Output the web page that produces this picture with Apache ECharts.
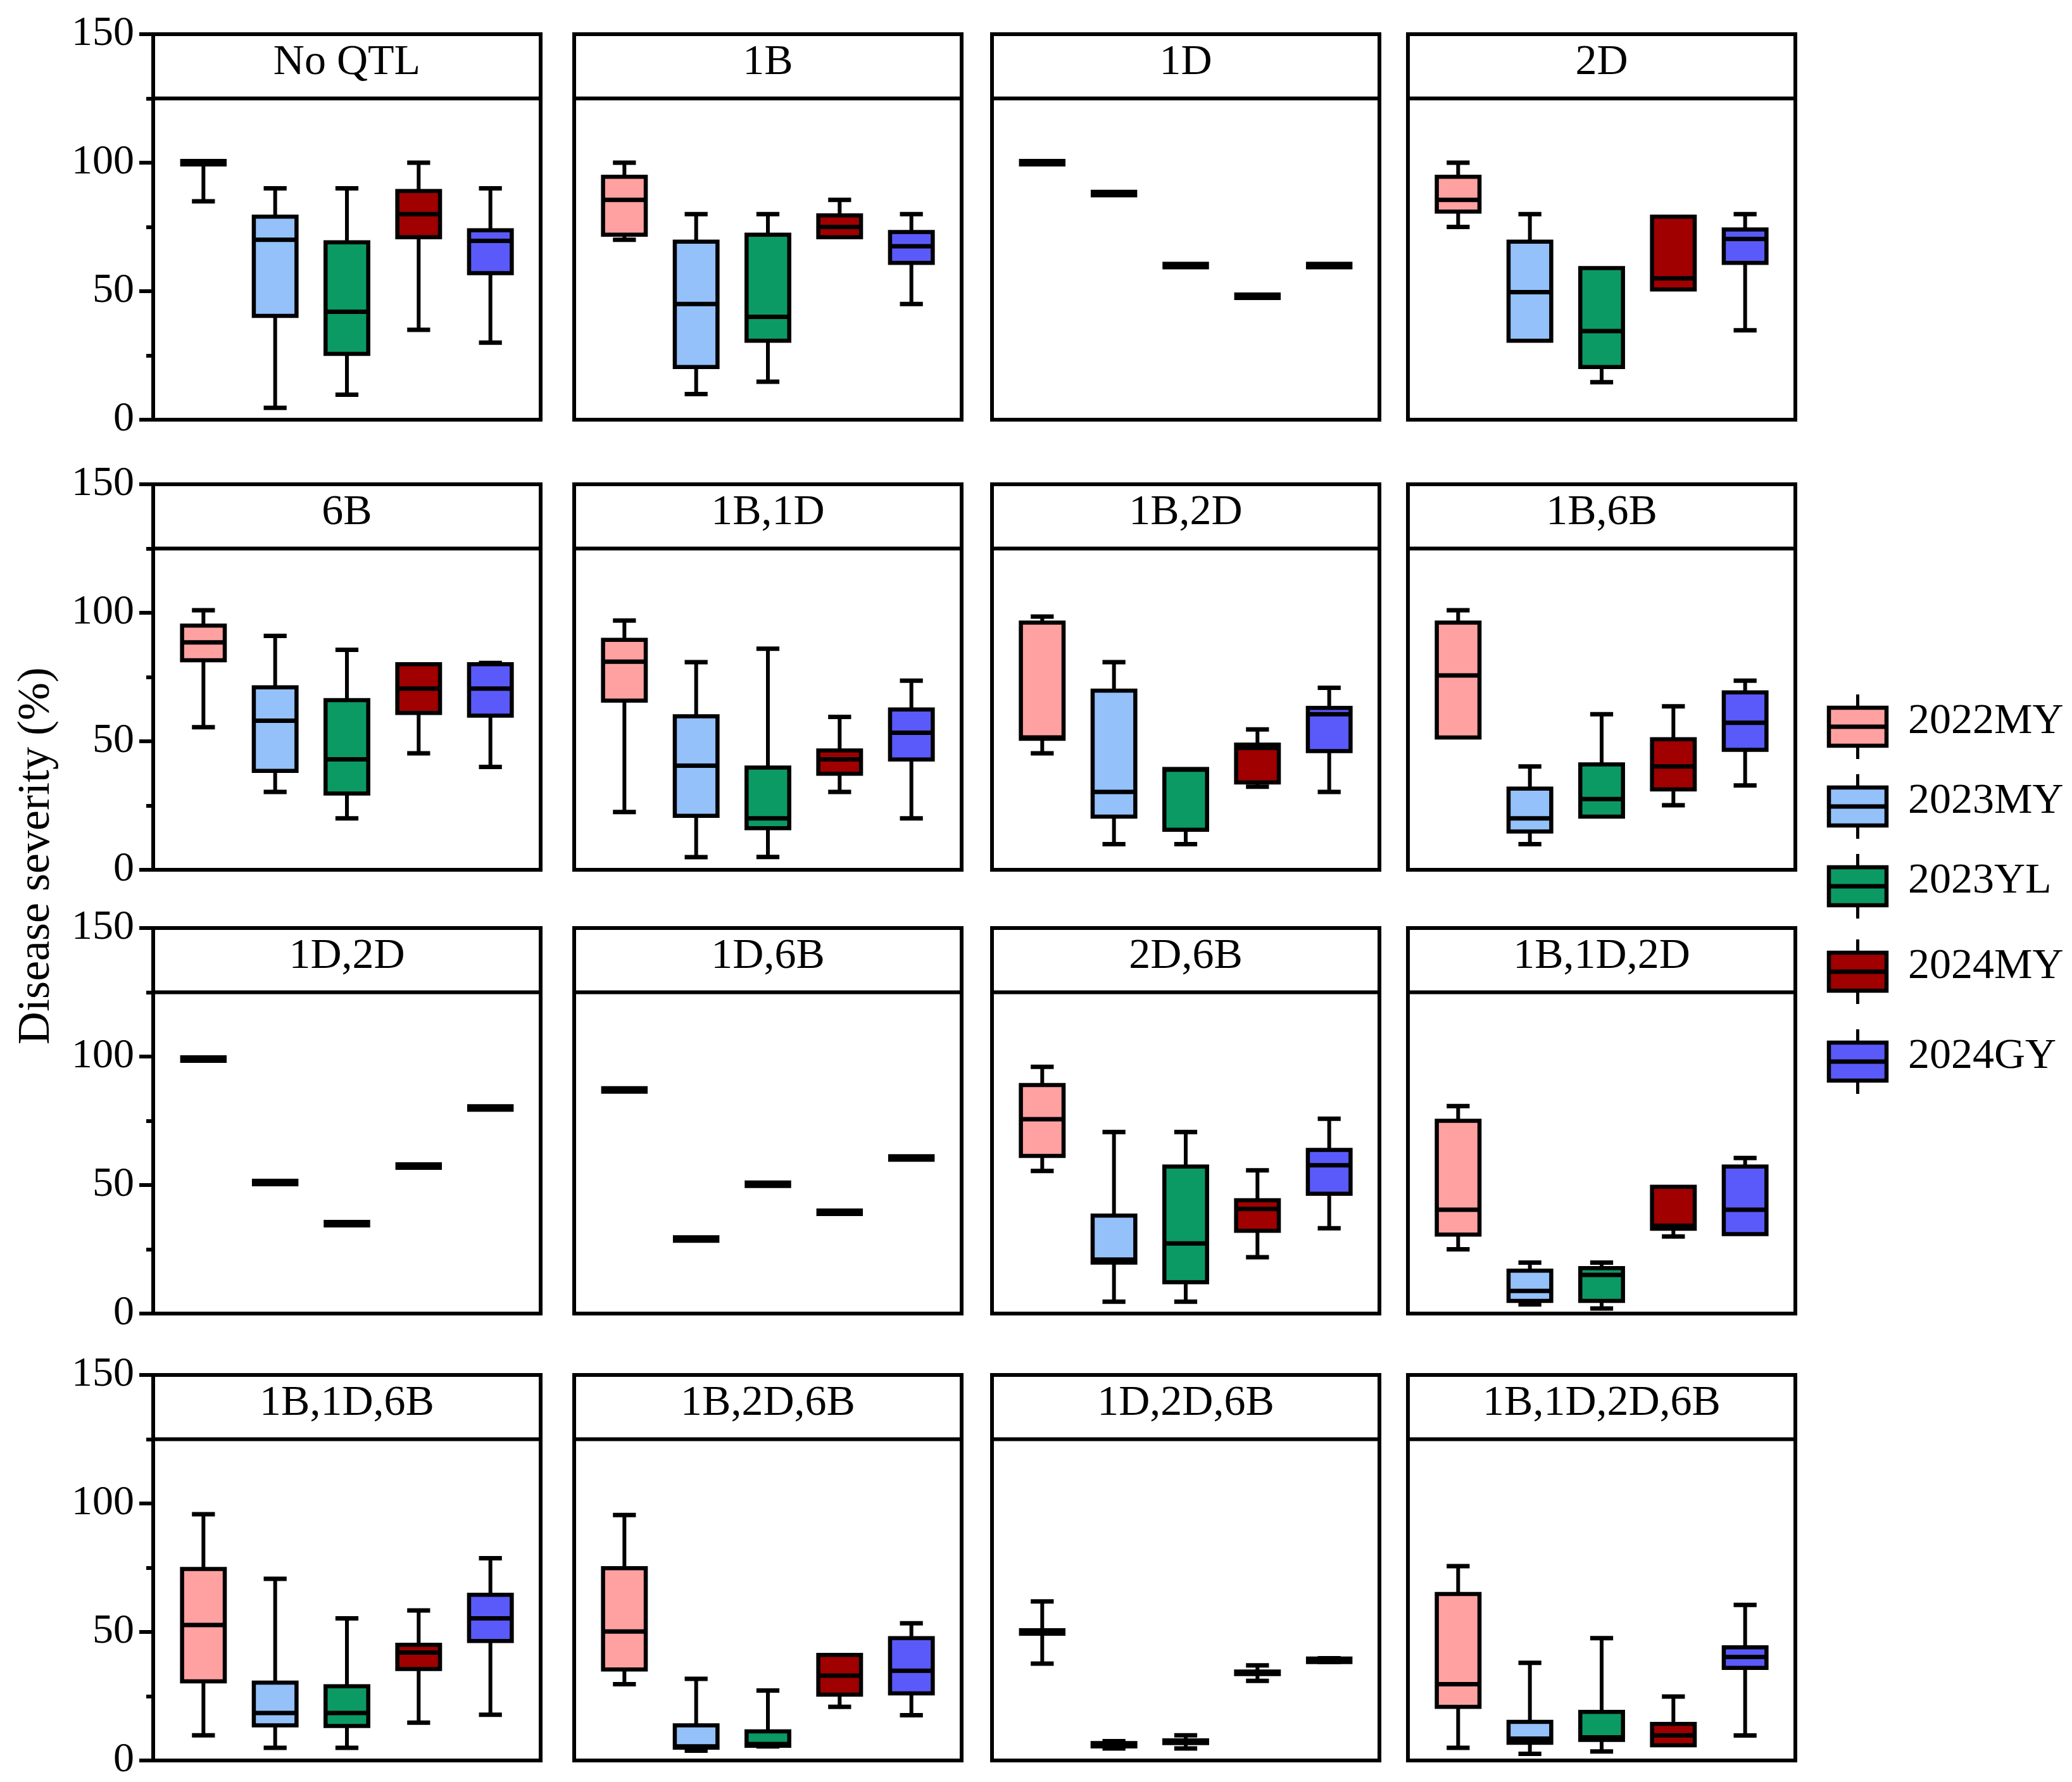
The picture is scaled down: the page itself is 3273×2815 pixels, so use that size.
<!DOCTYPE html>
<html>
<head>
<meta charset="utf-8">
<script src="https://cdn.jsdelivr.net/npm/echarts@6/dist/echarts.min.js"></script>
<style>
html,body{margin:0;padding:0;background:#fff;}
#chart{width:3273px;height:2815px;}
</style>
</head>
<body>
<div id="chart"></div>
<script>
// ---------- DATA ----------
const panels = ['No QTL','1B','1D','2D','6B','1B,1D','1B,2D','1B,6B',
  '1D,2D','1D,6B','2D,6B','1B,1D,2D','1B,1D,6B','1B,2D,6B','1D,2D,6B','1B,1D,2D,6B'];
const groups = ['2022MY','2023MY','2023YL','2024MY','2024GY'];
const yTicks = [0, 50, 100, 150];
// each entry: [min, Q1, median, Q3, max]
const y2022MY = [
  [85,100,100,100,100],[70,72,85.5,94.5,100],[100,100,100,100,100],[75,81,85.5,94.5,100],
  [55.5,81.5,88.5,95,101],[22.5,65.8,81,89.5,97],[45.3,51,51.5,96.2,98.5],[51.5,51.5,75.6,96.2,101],
  [99,99,99,99,99],[87,87,87,87,87],[55.5,61.3,75.6,88.9,96],[25,30.7,40.4,75,80.7],
  [9.8,30.8,52.7,74.5,95.8],[29.7,35.4,50.2,74.8,95.5],[37.7,50,50,50,61.9],[4.9,20.9,29.7,64.8,75.6]
];
const y2023MY = [
  [4.6,40.4,70,79,90],[10,20.5,45,69.3,80],[88,88,88,88,88],[30.7,30.7,49.6,69.3,80],
  [30.3,38.5,58,71,91],[4.9,21,40.5,59.7,80.8],[10,20.7,30.3,69.7,80.8],[10,14.9,20,31.6,40.2],
  [51,51,51,51,51],[29,29,29,29,29],[4.6,19.8,21,38.1,70.6],[3.6,4.9,8.8,16.7,19.8],
  [4.9,13.7,18.5,30.3,70.7],[3.8,5,5.5,13.7,31.8],[4.7,5.5,6.2,6.8,7.5],[2.6,6.9,8.5,15,38]
];
const y2023YL = [
  [9.7,25.6,42,69,90],[14.8,30.7,40,72,80],[60,60,60,60,60],[14.6,20.5,34.5,59,59],
  [20,29.7,43,66,85.6],[5,16.2,20,39.8,86],[10,15.6,39,39.2,39.2],[20.7,20.7,27.5,41,60.5],
  [35,35,35,35,35],[50.3,50.3,50.3,50.3,50.3],[4.6,12.2,27.3,57.2,70.6],[2,4.9,15,17.7,19.8],
  [4.9,13.4,18.5,28.9,55.3],[5.5,5.7,6.4,11.3,27.2],[4.7,6.8,7.3,7.8,9.8],[3.5,8,9,18.9,47.6]
];
const y2024MY = [
  [35,71,80,89,100],[71,71,75,79.5,85.5],[48,48,48,48,48],[50.7,50.7,55,79,79],
  [45.3,61,70.5,80,80],[30.3,37.4,43,46.4,59.5],[32.3,34,47.4,48.7,54.6],[25.1,31.3,40.2,50.8,63.6],
  [57.4,57.4,57.4,57.4,57.4],[39.4,39.4,39.4,39.4,39.4],[21.9,32.2,40.7,44.1,55.7],[30,33,34.2,49.3,49.3],
  [14.7,35.6,42,45,58.4],[20.9,25.6,33,41.1,41.1],[31,33.6,34.1,34.6,37],[5.9,5.9,9.8,14.2,24.9]
];
const y2024GY = [
  [30,57,69.6,73.7,90],[45,61,67.5,73,80],[60,60,60,60,60],[34.8,61,70.3,74,80],
  [40,60,70.5,80,80.5],[20,42.9,53.3,62.4,73.6],[30.3,46.2,60.5,63,70.8],[32.8,46.7,57.2,69,73.6],
  [80,80,80,80,80],[60.5,60.5,60.5,60.5,60.5],[33.2,46.6,57.7,63.7,75.8],[30.9,30.9,40.4,57.2,60.5],
  [17.8,46.5,55.3,64.5,78.7],[17.6,26.1,34.9,47.6,53.4],[38.3,38.7,39,39.3,39.8],[9.7,36,40.3,44,60.5]
];
const groupData = [y2022MY, y2023MY, y2023YL, y2024MY, y2024GY];
const colors = ['#FFA1A1','#94C1FA','#0C9A64','#A00000','#5A5AFA'];

// ---------- LAYOUT ----------
const FONT = 'Liberation Serif';
const colLefts = [242, 907, 1567, 2224];
const rowTops = [54, 765, 1466, 2172];
const gw = 612, gh = 609;

function renderBox(params, api) {
  const x = api.value(0);
  const mn = api.value(1), q1 = api.value(2), md = api.value(3), q3 = api.value(4), mx = api.value(5);
  const k = api.value(6);
  const cx = api.coord([x, md])[0];
  const yMin = api.coord([x, mn])[1], yQ1 = api.coord([x, q1])[1], yMd = api.coord([x, md])[1];
  const yQ3 = api.coord([x, q3])[1], yMax = api.coord([x, mx])[1];
  const bw = api.size([0.595, 0])[0];
  const cw = api.size([0.32, 0])[0];
  const ch = [];
  const blk = '#000';
  if (mx > q3) {
    ch.push({type:'line', shape:{x1:cx, y1:yQ3, x2:cx, y2:yMax}, style:{stroke:blk, lineWidth:6}});
    ch.push({type:'line', shape:{x1:cx-cw/2, y1:yMax, x2:cx+cw/2, y2:yMax}, style:{stroke:blk, lineWidth:7}});
  }
  if (mn < q1) {
    ch.push({type:'line', shape:{x1:cx, y1:yQ1, x2:cx, y2:yMin}, style:{stroke:blk, lineWidth:6}});
    ch.push({type:'line', shape:{x1:cx-cw/2, y1:yMin, x2:cx+cw/2, y2:yMin}, style:{stroke:blk, lineWidth:7}});
  }
  if (yQ1 - yQ3 > 3) {
    ch.push({type:'rect', shape:{x:cx-bw/2, y:yQ3, width:bw, height:yQ1-yQ3},
      style:{fill:colors[k], stroke:blk, lineWidth:6.5}});
    ch.push({type:'line', shape:{x1:cx-bw/2, y1:yMd, x2:cx+bw/2, y2:yMd}, style:{stroke:blk, lineWidth:7}});
  } else {
    ch.push({type:'line', shape:{x1:cx-bw/2-3, y1:yMd, x2:cx+bw/2+3, y2:yMd}, style:{stroke:blk, lineWidth:12}});
  }
  return {type:'group', children:ch};
}

const grids = [], xAxes = [], yAxes = [], series = [];
panels.forEach((name, i) => {
  const row = Math.floor(i / 4), col = i % 4;
  grids.push({left: colLefts[col], top: rowTops[row], width: gw, height: gh,
    show: true, borderColor: '#000', borderWidth: 6, backgroundColor: 'rgba(0,0,0,0)'});
  xAxes.push({type:'value', gridIndex:i, min:0.3, max:5.7, show:false});
  const first = col === 0;
  yAxes.push({type:'value', gridIndex:i, min:yTicks[0], max:yTicks[yTicks.length-1], interval:50,
    axisLine:{show:false},
    splitLine:{show:false},
    axisTick:{show:first, length:22, lineStyle:{color:'#000', width:6}},
    minorTick:{show:first, splitNumber:2, length:11, lineStyle:{color:'#000', width:6}},
    minorSplitLine:{show:false},
    axisLabel:{show:first, fontSize:66, fontFamily:FONT, color:'#000', margin:30}
  });
  const data = groups.map((g, k) => {
    const v = groupData[k][i];
    return [k + 1, v[0], v[1], v[2], v[3], v[4], k];
  });
  series.push({
    type:'custom', xAxisIndex:i, yAxisIndex:i, renderItem: renderBox,
    encode:{x:0, y:[1,2,3,4,5]}, data: data, z: 3,
    markArea:{silent:true,
      itemStyle:{color:'rgba(0,0,0,0)', borderColor:'#000', borderWidth:6},
      label:{show:true, position:'inside', fontSize:68, fontFamily:FONT, color:'#000', offset:[0,-6]},
      data:[[{yAxis:125, name:name},{yAxis:150}]]
    }
  });
});

// legend drawn as graphic
const legendY = [1148, 1274, 1400, 1535, 1677];
const legendEls = [];
groups.forEach((g, k) => {
  const cy = legendY[k], x0 = 2889, w = 91, h = 60, cxl = x0 + w/2;
  legendEls.push({type:'line', shape:{x1:cxl, y1:cy-h/2-21, x2:cxl, y2:cy+h/2+21}, style:{stroke:'#000', lineWidth:5}});
  legendEls.push({type:'rect', shape:{x:x0, y:cy-h/2, width:w, height:h}, style:{fill:colors[k], stroke:'#000', lineWidth:6.5}});
  legendEls.push({type:'line', shape:{x1:x0, y1:cy, x2:x0+w, y2:cy}, style:{stroke:'#000', lineWidth:7}});
  legendEls.push({type:'text', x:3014, y:cy-8, style:{text:g, font:'68px "' + FONT + '"', fill:'#000', textVerticalAlign:'middle', textAlign:'left'}});
});
legendEls.push({type:'text', x:58, y:1352, rotation:Math.PI/2,
  style:{text:'Disease severity (%)', font:'72px "' + FONT + '"', fill:'#000', textAlign:'center', textVerticalAlign:'middle'}});

const chart = echarts.init(document.getElementById('chart'));
chart.setOption({
  animation:false,
  backgroundColor:'#fff',
  grid:grids, xAxis:xAxes, yAxis:yAxes, series:series,
  graphic:legendEls
});
</script>
</body>
</html>
